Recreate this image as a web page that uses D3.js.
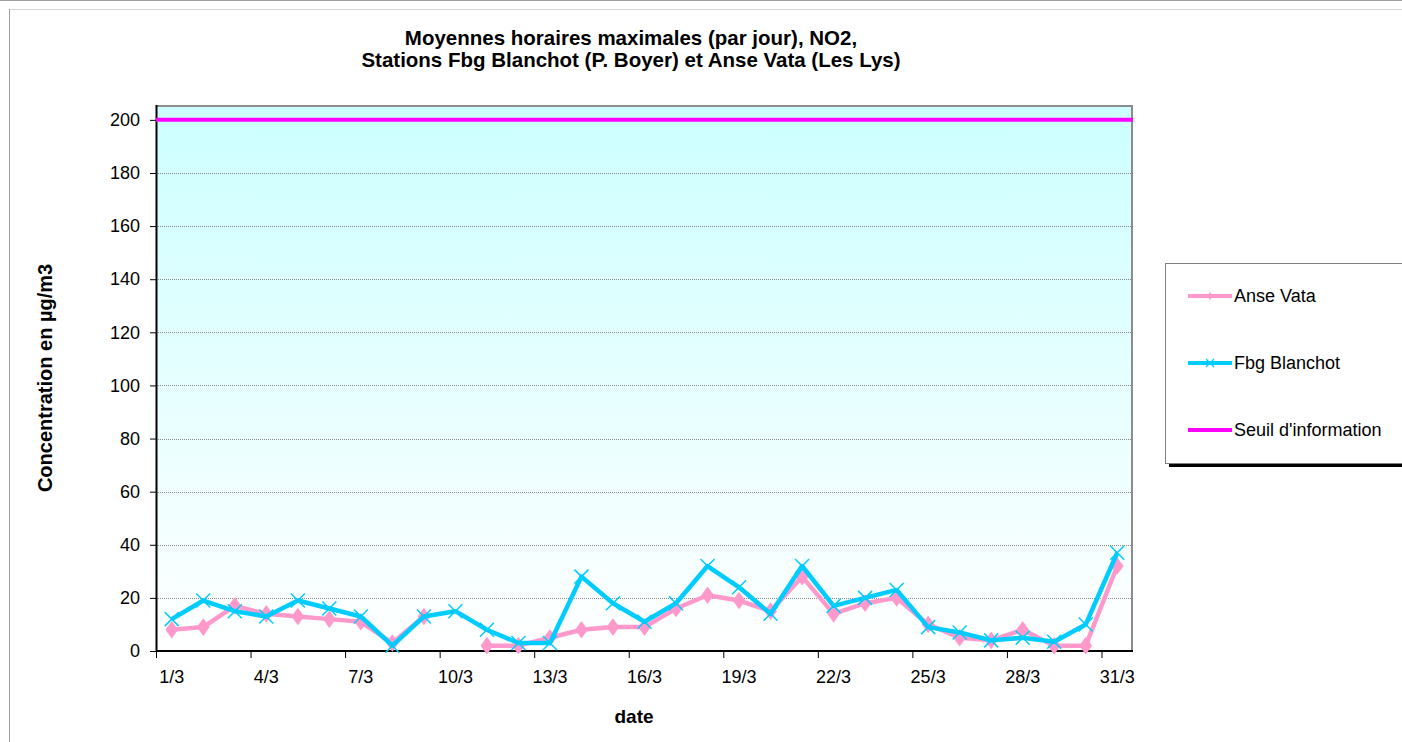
<!DOCTYPE html>
<html>
<head>
<meta charset="utf-8">
<script src="https://cdn.jsdelivr.net/npm/d3@7.9.0/dist/d3.min.js"></script>
<style>
  body { margin: 0; background: #fff; }
  svg { display: block; font-family: "Liberation Sans", Arial, sans-serif; }
</style>
</head>
<body>
<svg id="chart" width="1402" height="742"></svg>
<script>
// daily max hourly NO2, March
const days = d3.range(1, 32).map(d => d + "/3");
const anseVata = [8, 9, 17, 14, 13, 12, 11, 3, 13, null, 2, 2, 5, 8, 9, 9, 16, 21, 19, 15, 28, 14, 18, 20, 10, 5, 4, 8, 2, 2, 32];
const fbgBlanchot = [12, 19, 15, 13, 19, 16, 13, 2, 13, 15, 8, 3, 3, 28, 18, 11, 18, 32, 24, 14, 32, 17, 20, 23, 9, 7, 4, 5, 3.5, 10, 37];
const seuil = 200;
const yTicks = [0, 20, 40, 60, 80, 100, 120, 140, 160, 180, 200];
const xLabels = days.filter((d, i) => i % 3 === 0);

const series = [
  { name: "Anse Vata", values: anseVata, color: "#ff99cc", marker: "diamond" },
  { name: "Fbg Blanchot", values: fbgBlanchot, color: "#00ccff", marker: "x" }
];

const margin = { top: 105, left: 156, right: 269, bottom: 91 };
const W = 1402, H = 742;
const width = W - margin.left - margin.right;
const height = H - margin.top - margin.bottom;

const root = d3.select("#chart");

// outer frame
root.append("line").attr("x1", 0).attr("x2", W).attr("y1", 0.5).attr("y2", 0.5).attr("stroke", "#a0a0a0");
root.append("line").attr("x1", 9).attr("x2", W).attr("y1", 9.5).attr("y2", 9.5).attr("stroke", "#d4d4d4");
root.append("line").attr("x1", 9.5).attr("x2", 9.5).attr("y1", 9).attr("y2", H).attr("stroke", "#a0a0a0");

const defs = root.append("defs");
const grad = defs.append("linearGradient").attr("id", "bg").attr("x1", 0).attr("y1", 0).attr("x2", 0).attr("y2", 1);
grad.append("stop").attr("offset", "0%").attr("stop-color", "#ccffff");
grad.append("stop").attr("offset", "100%").attr("stop-color", "#ffffff");

const svg = root.append("g").attr("transform", `translate(${margin.left},${margin.top})`);

const x = d3.scaleBand().domain(days).range([0, width]);
const y = d3.scaleLinear().domain([0, 205.6]).range([height, 0]);

svg.append("rect").attr("width", width).attr("height", height).attr("fill", "url(#bg)");

// grid
svg.append("g").selectAll("line").data(yTicks.slice(1)).join("line")
  .attr("x1", 0).attr("x2", width)
  .attr("y1", d => Math.round(y(d)) + 0.5).attr("y2", d => Math.round(y(d)) + 0.5)
  .attr("stroke", "#888").attr("stroke-dasharray", "1,1");

// plot border top/right
svg.append("path").attr("d", `M0,1 H${width - 1} V${height}`)
  .attr("fill", "none").attr("stroke", "#8c8c8c").attr("stroke-width", 2);

// y axis
const yAxis = svg.append("g")
  .call(d3.axisLeft(y).tickValues(yTicks).tickSize(6).tickPadding(10));
yAxis.select(".domain").attr("d", `M0.5,0 V${height}`).attr("stroke", "#000").attr("stroke-width", 2);
yAxis.selectAll("text").attr("font-size", 18).attr("fill", "#000").attr("font-family", "Liberation Sans, Arial, sans-serif");

// x axis: ticks at band boundaries every 3 categories
const xAxis = svg.append("g").attr("transform", `translate(0,${height})`);
xAxis.append("line").attr("x1", 0).attr("x2", width).attr("y1", 0).attr("y2", 0)
  .attr("stroke", "#000").attr("stroke-width", 2);
xAxis.selectAll("line.tk").data(xLabels).join("line").attr("class", "tk")
  .attr("x1", d => x(d) + 0.5).attr("x2", d => x(d) + 0.5)
  .attr("y1", 0).attr("y2", 7).attr("stroke", "#000");
xAxis.selectAll("text").data(xLabels).join("text")
  .attr("x", d => x(d) + x.bandwidth() / 2).attr("y", 32)
  .attr("text-anchor", "middle").attr("font-size", 18).text(d => d);

// threshold
svg.append("line").attr("x1", 0).attr("x2", width)
  .attr("y1", y(seuil)).attr("y2", y(seuil))
  .attr("stroke", "#ff00ff").attr("stroke-width", 4);

const cx = (d, i) => x(days[i]) + x.bandwidth() / 2;
const line = d3.line().defined(d => d != null).x(cx).y(d => y(d));

series.forEach(s => {
  const g = svg.append("g");
  g.append("path").datum(s.values)
    .attr("fill", "none").attr("stroke", s.color).attr("stroke-width", 4.5)
    .attr("stroke-linejoin", "round").attr("d", line);
  const pts = s.values.map((v, i) => ({ v, i })).filter(p => p.v != null);
  if (s.marker === "diamond") {
    g.selectAll("path.m").data(pts).join("path").attr("class", "m")
      .attr("d", d3.symbol(d3.symbolDiamond, 90)())
      .attr("transform", p => `translate(${cx(p.v, p.i)},${y(p.v)}) scale(1.25,1)`)
      .attr("fill", s.color);
  } else {
    g.selectAll("path.m").data(pts).join("path").attr("class", "m")
      .attr("d", "M-7,-7L7,7M-7,7L7,-7")
      .attr("transform", p => `translate(${cx(p.v, p.i)},${y(p.v)})`)
      .attr("stroke", s.color).attr("stroke-width", 1.5).attr("fill", "none");
  }
});

// titles
const title = root.append("text").attr("text-anchor", "middle").attr("font-size", 20.5).attr("font-weight", "bold");
title.append("tspan").attr("x", 631).attr("y", 45).text("Moyennes horaires maximales (par jour), NO2,");
title.append("tspan").attr("x", 631).attr("y", 67).text("Stations Fbg Blanchot (P. Boyer) et Anse Vata (Les Lys)");

root.append("text").attr("x", 634).attr("y", 723).attr("text-anchor", "middle")
  .attr("font-size", 19).attr("font-weight", "bold").text("date");

root.append("text").attr("transform", "translate(52,378) rotate(-90)").attr("text-anchor", "middle")
  .attr("font-size", 20).attr("font-weight", "bold").text("Concentration en µg/m3");

// legend
const leg = root.append("g").attr("transform", "translate(1165,263)");
leg.append("rect").attr("x", 4).attr("y", 4).attr("width", 260).attr("height", 200).attr("fill", "#000");
leg.append("rect").attr("x", 0.5).attr("y", 0.5).attr("width", 260).attr("height", 200)
  .attr("fill", "#fff").attr("stroke", "#808080");
const legItems = [
  { name: "Anse Vata", color: "#ff99cc", marker: "diamond" },
  { name: "Fbg Blanchot", color: "#00ccff", marker: "x" },
  { name: "Seuil d'information", color: "#ff00ff", marker: null }
];
legItems.forEach((it, i) => {
  const gy = 33 + i * 67;
  const gi = leg.append("g").attr("transform", `translate(0,${gy})`);
  gi.append("line").attr("x1", 23).attr("x2", 67).attr("stroke", it.color).attr("stroke-width", 4);
  if (it.marker === "diamond") {
    gi.append("path").attr("d", d3.symbol(d3.symbolDiamond, 20)()).attr("transform", "translate(45,0)").attr("fill", it.color);
  } else if (it.marker === "x") {
    gi.append("path").attr("d", "M-4,-4L4,4M-4,4L4,-4").attr("transform", "translate(45,0)")
      .attr("stroke", it.color).attr("stroke-width", 1.2);
  }
  gi.append("text").attr("x", 69).attr("y", 6).attr("font-size", 18).text(it.name);
});
</script>
</body>
</html>
